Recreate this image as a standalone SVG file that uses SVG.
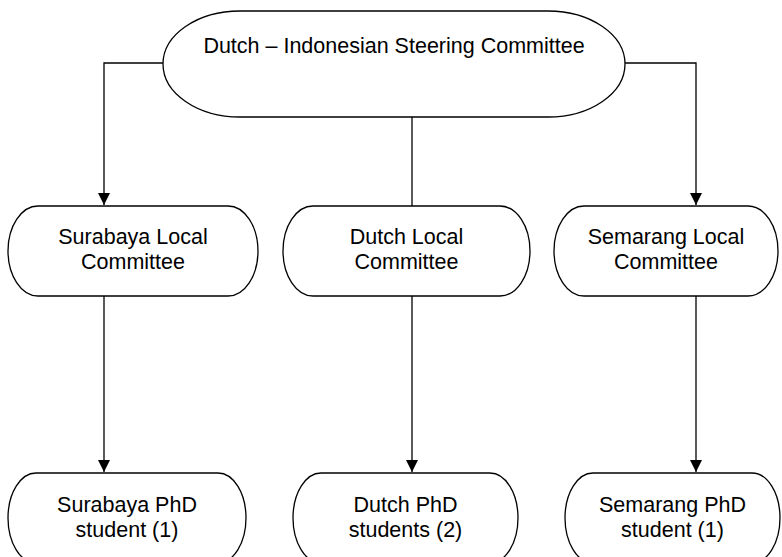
<svg xmlns="http://www.w3.org/2000/svg" width="782" height="557" viewBox="0 0 782 557">
  <style>
    .node { fill: #ffffff; stroke: #000000; stroke-width: 1.3; }
    .label { font-family: "Liberation Sans", Arial, sans-serif; font-size: 21.5px; fill: #000000; text-anchor: middle; }
    .edge { fill: none; stroke: #000000; stroke-width: 1.3; }
  </style>
  <defs>
    <marker id="arrow" viewBox="0 0 12 12" refX="12" refY="6" markerWidth="12" markerHeight="12" markerUnits="userSpaceOnUse" orient="auto">
      <path d="M0,0 L12,6 L0,12 Z" fill="#000000"/>
    </marker>
  </defs>

  <!-- connectors -->
  <g id="connectors">
    <path class="edge" d="M163,63 H104 V205" marker-end="url(#arrow)"/>
    <path class="edge" d="M625,63 H696 V205" marker-end="url(#arrow)"/>
    <path class="edge" d="M412,117 V206"/>
    <path class="edge" d="M104,296 V472" marker-end="url(#arrow)"/>
    <path class="edge" d="M412,296 V472" marker-end="url(#arrow)"/>
    <path class="edge" d="M696,296 V472" marker-end="url(#arrow)"/>
  </g>

  <!-- steering committee -->
  <g id="steering">
    <path class="node" d="M240,11 H548 A77,53 0 0 1 548,117 H240 A77,53 0 0 1 240,11 Z"/>
    <text class="label" x="394" y="53">Dutch – Indonesian Steering Committee</text>
  </g>

  <!-- local committees -->
  <g id="surabaya-local">
    <path class="node" d="M38,206 H228 A30,45 0 0 1 228,296 H38 A30,45 0 0 1 38,206 Z"/>
    <text class="label" x="133" y="244">Surabaya Local</text>
    <text class="label" x="133" y="269">Committee</text>
  </g>
  <g id="dutch-local">
    <path class="node" d="M313,206 H500 A30,45 0 0 1 500,296 H313 A30,45 0 0 1 313,206 Z"/>
    <text class="label" x="406.5" y="244">Dutch Local</text>
    <text class="label" x="406.5" y="269">Committee</text>
  </g>
  <g id="semarang-local">
    <path class="node" d="M584,206 H748 A30,45 0 0 1 748,296 H584 A30,45 0 0 1 584,206 Z"/>
    <text class="label" x="666" y="244">Semarang Local</text>
    <text class="label" x="666" y="269">Committee</text>
  </g>

  <!-- PhD students -->
  <g id="surabaya-phd">
    <path class="node" d="M36,473 H218 A28,45 0 0 1 218,563 H36 A28,45 0 0 1 36,473 Z"/>
    <text class="label" x="127" y="512">Surabaya PhD</text>
    <text class="label" x="127" y="537">student (1)</text>
  </g>
  <g id="dutch-phd">
    <path class="node" d="M321,473 H490 A28,45 0 0 1 490,563 H321 A28,45 0 0 1 321,473 Z"/>
    <text class="label" x="405.5" y="512">Dutch PhD</text>
    <text class="label" x="405.5" y="537">students (2)</text>
  </g>
  <g id="semarang-phd">
    <path class="node" d="M593,473 H752 A28,45 0 0 1 752,563 H593 A28,45 0 0 1 593,473 Z"/>
    <text class="label" x="672.5" y="512">Semarang PhD</text>
    <text class="label" x="672.5" y="537">student (1)</text>
  </g>
</svg>
